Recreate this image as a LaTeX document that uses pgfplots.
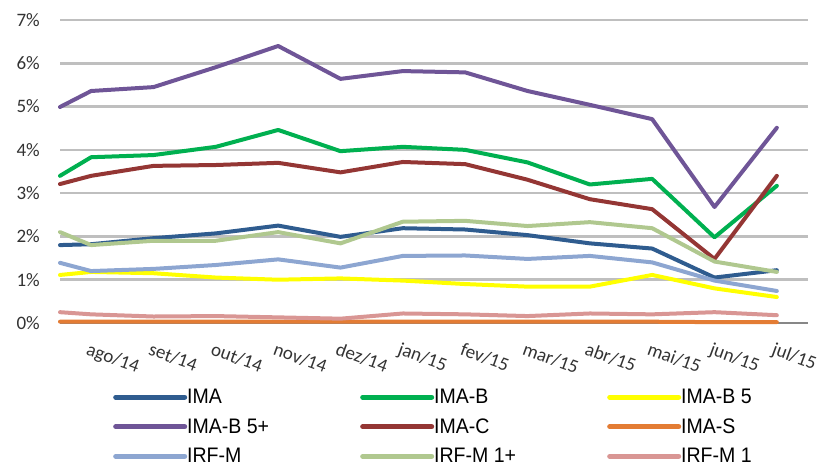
\documentclass[border=0pt]{standalone}
\usepackage{fontspec}
\setmainfont{Carlito}
\newfontfamily\legfont[FakeStretch=0.93]{Liberation Sans}
\usepackage{pgfplots}
\usepackage{pgfplotstable}
\pgfplotsset{compat=1.18}

\definecolor{cIMA}{HTML}{2F5C8F}
\definecolor{cIMAB}{HTML}{00B050}
\definecolor{cIMAB5}{HTML}{FFFF00}
\definecolor{cIMAB5p}{HTML}{6F5597}
\definecolor{cIMAC}{HTML}{943634}
\definecolor{cIMAS}{HTML}{E37C34}
\definecolor{cIRFM}{HTML}{8DA6D1}
\definecolor{cIRFM1p}{HTML}{B0C88F}
\definecolor{cIRFM1}{HTML}{D99694}

\pgfplotstableread{
x    ima   imab  imab5 imab5p imac  imas  irfm  irfm1p irfm1
0.5  1.80  3.40  1.11  4.99   3.21  0.03  1.39  2.10   0.25
1    1.82  3.83  1.18  5.36   3.40  0.03  1.20  1.80   0.20
2    1.96  3.88  1.15  5.45   3.63  0.03  1.25  1.90   0.15
3    2.07  4.07  1.05  5.91   3.65  0.03  1.34  1.90   0.16
4    2.25  4.46  1.00  6.40   3.70  0.03  1.47  2.10   0.13
5    1.99  3.97  1.03  5.64   3.48  0.03  1.28  1.84   0.10
6    2.19  4.07  0.98  5.82   3.72  0.03  1.55  2.34   0.22
7    2.16  4.00  0.90  5.79   3.67  0.03  1.56  2.36   0.20
8    2.03  3.71  0.84  5.36   3.31  0.03  1.48  2.24   0.16
9    1.84  3.20  0.84  5.04   2.86  0.03  1.55  2.33   0.22
10   1.72  3.33  1.11  4.71   2.63  0.03  1.40  2.19   0.20
11   1.05  1.98  0.80  2.68   1.48  0.02  0.98  1.42   0.25
12   1.22  3.17  0.60  4.51   3.40  0.02  0.74  1.18   0.18
}\datatable

\begin{document}
\begin{tikzpicture}
\path[use as bounding box] (-60pt,-143pt) rectangle (767pt,323pt);
\begin{axis}[
  at={(0pt,0pt)}, anchor=south west,
  scale only axis, width=748pt, height=303pt,
  xmin=0.5, xmax=12.5, ymin=0, ymax=7,
  axis lines*=left,
  y axis line style={draw=none},
  x axis line style={draw=black!47, line width=2.5pt},
  major tick length=0pt,
  ymajorgrids, grid style={draw=black!25, line width=2.5pt},
  ytick={0,1,2,3,4,5,6,7},
  yticklabels={0\%,1\%,2\%,3\%,4\%,5\%,6\%,7\%},
  yticklabel style={font=\fontsize{19}{22}\selectfont, anchor=east, inner sep=0pt, xshift=-20pt, text=black!80},
  xtick={1,2,3,4,5,6,7,8,9,10,11,12},
  xticklabels={ago/14,set/14,out/14,nov/14,dez/14,jan/15,fev/15,mar/15,abr/15,mai/15,jun/15,jul/15},
  xticklabel style={font=\fontsize{19}{22}\selectfont, rotate=-20, anchor=north west, inner sep=0pt, yshift=-18pt, xshift=5pt, text=black!80},
  every axis plot/.append style={line width=4pt, line join=round, line cap=round},
  legend columns=3,
  legend cell align=left,
  legend image code/.code={\draw[#1, line width=5pt, line cap=round] (0pt,0pt) -- (69pt,0pt);},
  legend style={at={(53pt,-66pt)}, anchor=north west, draw=none, fill=none, inner sep=0pt,
    font=\legfont\fontsize{21}{23}\selectfont, row sep=13.5pt,
    /tikz/every even column/.append style={column sep=5pt},
    nodes={inner sep=0pt}},
  clip=false,
]
\addplot[cIMA]    table[x=x,y=ima]{\datatable};    \addlegendentry{\makebox[168pt][l]{IMA}}
\addplot[cIMAB]   table[x=x,y=imab]{\datatable};   \addlegendentry{\makebox[168pt][l]{IMA-B}}
\addplot[cIMAB5]  table[x=x,y=imab5]{\datatable};  \addlegendentry{\makebox[100pt][l]{IMA-B 5}}
\addplot[cIMAB5p] table[x=x,y=imab5p]{\datatable}; \addlegendentry{\makebox[168pt][l]{IMA-B 5+}}
\addplot[cIMAC]   table[x=x,y=imac]{\datatable};   \addlegendentry{\makebox[168pt][l]{IMA-C}}
\addplot[cIMAS]   table[x=x,y=imas]{\datatable};   \addlegendentry{\makebox[100pt][l]{IMA-S}}
\addplot[cIRFM]   table[x=x,y=irfm]{\datatable};   \addlegendentry{\makebox[168pt][l]{IRF-M}}
\addplot[cIRFM1p] table[x=x,y=irfm1p]{\datatable}; \addlegendentry{\makebox[168pt][l]{IRF-M 1+}}
\addplot[cIRFM1]  table[x=x,y=irfm1]{\datatable};  \addlegendentry{\makebox[100pt][l]{IRF-M 1}}
\end{axis}
\end{tikzpicture}
\end{document}
